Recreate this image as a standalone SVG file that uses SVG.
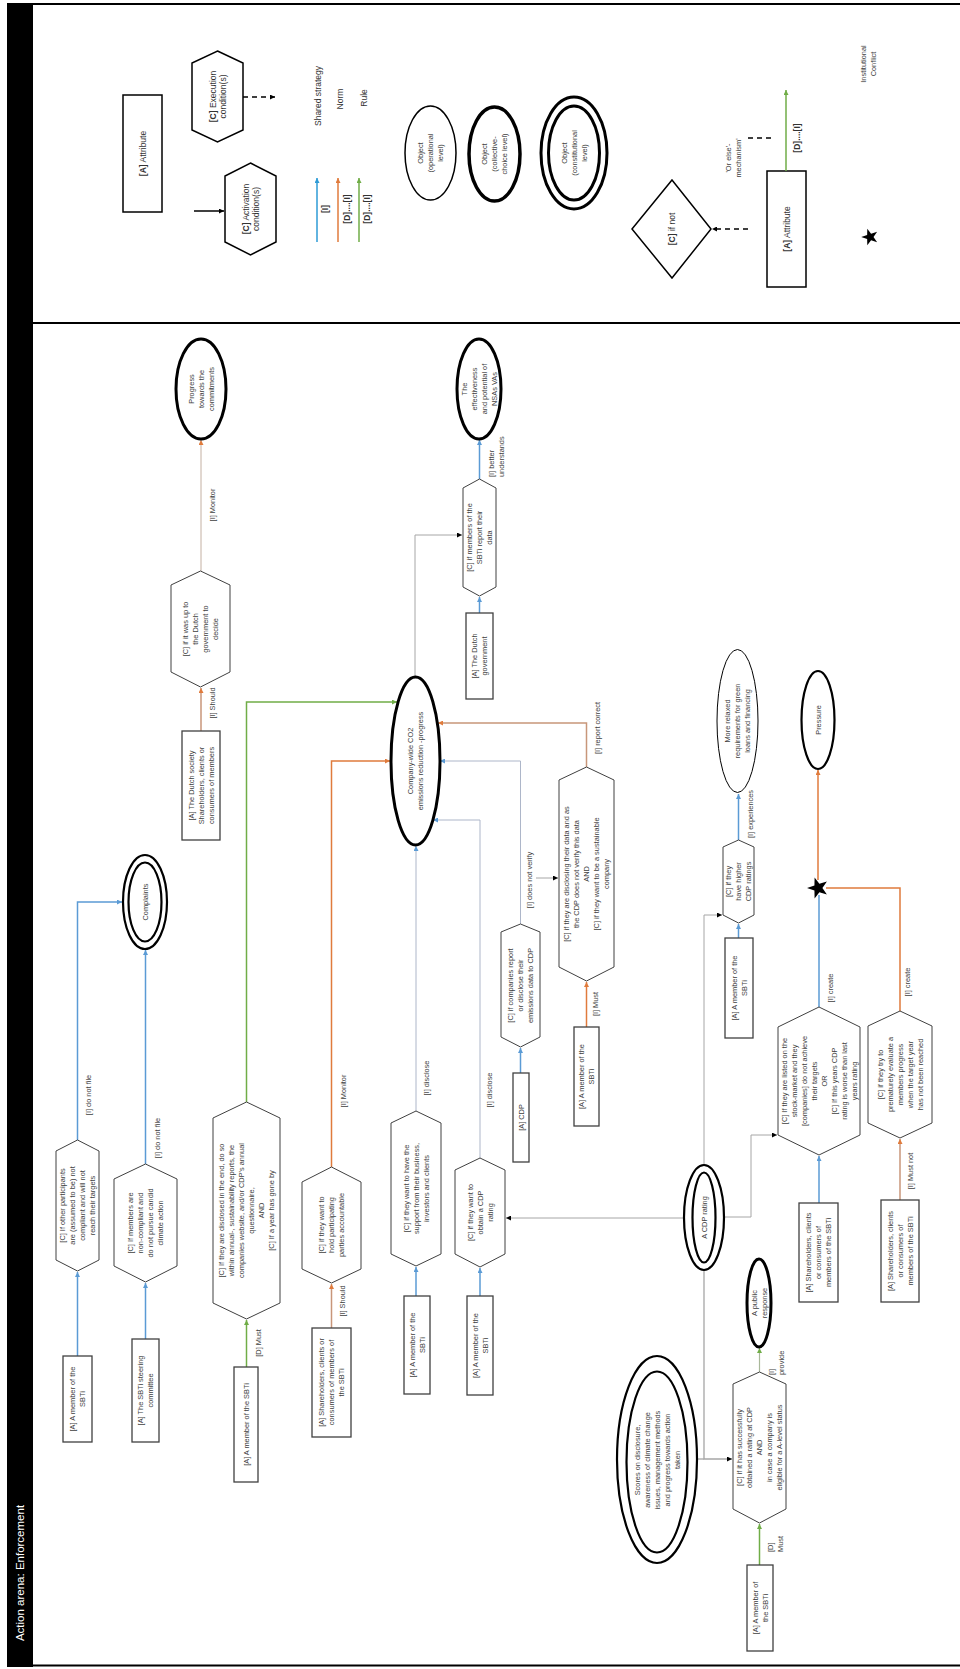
<svg xmlns="http://www.w3.org/2000/svg" width="960" height="1669" viewBox="0 0 960 1669">
<defs>
<style>
.t{font-family:"Liberation Sans",Arial,sans-serif;font-size:7.4px;fill:#404040;text-anchor:middle}
.ls{font-family:"Liberation Sans",Arial,sans-serif;font-size:7.4px;fill:#404040;text-anchor:start}
.lg{font-family:"Liberation Sans",Arial,sans-serif;font-size:8.5px;fill:#333;text-anchor:middle}
.box{fill:#fff;stroke:#404040;stroke-width:1.3}
.hex{fill:#fff;stroke:#404040;stroke-width:1}
.e3{fill:#fff;stroke:#000;stroke-width:3}
.e2{fill:#fff;stroke:#000;stroke-width:2.2}
.e1{fill:#fff;stroke:#000;stroke-width:1}
.c{fill:none}
.blue{stroke:#5b9bd5;stroke-width:1.5}
.orange{stroke:#e07b3c;stroke-width:1.5}
.tan{stroke:#c8967a;stroke-width:1.5}
.green{stroke:#70ad47;stroke-width:1.5}
.gray{stroke:#a6a6a6;stroke-width:1}
.bgray{stroke:#adb6c9;stroke-width:1}
.dash{stroke:#000;stroke-width:1.5;stroke-dasharray:5 4}
</style>
<marker id="mb" viewBox="0 0 6 6" refX="6" refY="3" markerWidth="5" markerHeight="5" markerUnits="userSpaceOnUse" orient="auto"><path d="M0,0L6,3L0,6z" fill="#5b9bd5"/></marker>
<marker id="mo" viewBox="0 0 6 6" refX="6" refY="3" markerWidth="5" markerHeight="5" markerUnits="userSpaceOnUse" orient="auto"><path d="M0,0L6,3L0,6z" fill="#e07b3c"/></marker>
<marker id="mg" viewBox="0 0 6 6" refX="6" refY="3" markerWidth="5" markerHeight="5" markerUnits="userSpaceOnUse" orient="auto"><path d="M0,0L6,3L0,6z" fill="#70ad47"/></marker>
<marker id="mk" viewBox="0 0 6 6" refX="6" refY="3" markerWidth="5" markerHeight="5" markerUnits="userSpaceOnUse" orient="auto"><path d="M0,0L6,3L0,6z" fill="#000"/></marker>
<marker id="mlb" viewBox="0 0 6 6" refX="6" refY="3" markerWidth="5" markerHeight="5" markerUnits="userSpaceOnUse" orient="auto"><path d="M0,0L6,3L0,6z" fill="#2e9bd6"/></marker>
<polygon id="star" points="0,-11 2.59,-3.56 10.46,-3.4 4.18,1.36 6.47,8.9 0,4.4 -6.47,8.9 -4.18,1.36 -10.46,-3.4 -2.59,-3.56" fill="#000"/>
</defs>
<rect width="960" height="1669" fill="#fff"/>

<g id="frame">
<rect x="7" y="3" width="26" height="1664" fill="#000"/>
<line x1="7" y1="4" x2="960" y2="4" stroke="#000" stroke-width="2"/>
<line x1="33" y1="323" x2="960" y2="323" stroke="#000" stroke-width="2"/>
<line x1="7" y1="1665.5" x2="960" y2="1665.5" stroke="#000" stroke-width="2"/>
<text transform="translate(24 1573) rotate(-90)" font-family="Liberation Sans,Arial,sans-serif" font-size="11.5" fill="#fff" text-anchor="middle">Action arena: Enforcement</text>
</g>

<g id="legend">
<g id="lg-attr1"><rect x="123" y="95" width="39" height="117" fill="#fff" stroke="#000" stroke-width="1.5"/>
<text class="lg" transform="translate(142.5 153.5) rotate(-90)" y="3"><tspan font-weight="bold">[A]</tspan> Attribute</text></g>
<g id="lg-exec"><polygon points="217.5,51 243,63 243,130 217.5,142 192,130 192,63" fill="#fff" stroke="#000" stroke-width="1.5"/>
<text class="lg" transform="translate(217.5 96.5) rotate(-90)"><tspan x="0" y="-2"><tspan font-weight="bold">[C]</tspan> Execution</tspan><tspan x="0" y="8.5">condition(s)</tspan></text></g>
<g id="lg-act"><polygon points="250.5,163 276,176 276,242 250.5,255 225,242 225,176" fill="#fff" stroke="#000" stroke-width="1.5"/>
<text class="lg" transform="translate(250.5 209) rotate(-90)"><tspan x="0" y="-2"><tspan font-weight="bold">[C]</tspan> Activation</tspan><tspan x="0" y="8.5">condition(s)</tspan></text></g>
<path class="c dash" d="M243,97H275" marker-end="url(#mk)"/>
<path class="c" stroke="#000" stroke-width="1.5" d="M194,211H224" marker-end="url(#mk)"/>
<path class="c" stroke="#2e9bd6" stroke-width="1.5" d="M317,242V178" marker-end="url(#mlb)"/>
<path class="c" stroke="#e07b3c" stroke-width="1.5" d="M338,242V178" marker-end="url(#mo)"/>
<path class="c" stroke="#70ad47" stroke-width="1.5" d="M359,242V178" marker-end="url(#mg)"/>
<text class="lg" transform="translate(325 209) rotate(-90)" y="3" font-weight="bold" font-size="7.4">[I]</text>
<text class="lg" transform="translate(347 209) rotate(-90)" y="3" font-weight="bold" font-size="7.4">[D]....[I]</text>
<text class="lg" transform="translate(367 209) rotate(-90)" y="3" font-weight="bold" font-size="7.4">[D]....[I]</text>
<text class="lg" transform="translate(318 96) rotate(-90)" y="3" font-size="7.4">Shared strategy</text>
<text class="lg" transform="translate(340 99) rotate(-90)" y="3" font-size="7.4">Norm</text>
<text class="lg" transform="translate(364 98) rotate(-90)" y="3" font-size="7.4">Rule</text>
<g id="lg-obj1"><ellipse cx="430.5" cy="153" rx="25.5" ry="47" fill="#fff" stroke="#000" stroke-width="1.5"/>
<text class="t" transform="translate(430.5 153) rotate(-90)"><tspan x="0" y="-7.5">Object</tspan><tspan x="0" y="2.5">(operational</tspan><tspan x="0" y="12.5">level)</tspan></text></g>
<g id="lg-obj2"><ellipse cx="494.5" cy="154" rx="25.5" ry="47" fill="#fff" stroke="#000" stroke-width="3.5"/>
<text class="t" transform="translate(494.5 154) rotate(-90)"><tspan x="0" y="-7.5">Object</tspan><tspan x="0" y="2.5">(collective-</tspan><tspan x="0" y="12.5">choice level)</tspan></text></g>
<g id="lg-obj3"><ellipse cx="574" cy="153" rx="33" ry="56" fill="#fff" stroke="#000" stroke-width="3"/>
<ellipse cx="574" cy="153" rx="25.5" ry="47" fill="#fff" stroke="#000" stroke-width="3"/>
<text class="t" transform="translate(574 153) rotate(-90)"><tspan x="0" y="-7.5">Object</tspan><tspan x="0" y="2.5">(constitutional</tspan><tspan x="0" y="12.5">level)</tspan></text></g>
<g id="lg-ifnot"><polygon points="672,180 711,229 672,278 632,229" fill="#fff" stroke="#000" stroke-width="1.5"/>
<text class="lg" transform="translate(672 229) rotate(-90)" y="3"><tspan font-weight="bold">[C]</tspan> if not</text></g>
<path class="c dash" d="M748,229H712" marker-end="url(#mk)"/>
<path class="c dash" d="M748,138H775"/>
<text class="t" transform="translate(733.5 158) rotate(-90)"><tspan x="0" y="-2.5">'Or else'-</tspan><tspan x="0" y="7.5">mechanism'</tspan></text>
<g id="lg-attr2"><rect x="767" y="171" width="39" height="116" fill="#fff" stroke="#000" stroke-width="1.5"/>
<text class="lg" transform="translate(786.5 229) rotate(-90)" y="3"><tspan font-weight="bold">[A]</tspan> Attribute</text></g>
<path class="c" stroke="#70ad47" stroke-width="1.5" d="M786,171V90" marker-end="url(#mg)"/>
<text class="lg" transform="translate(797 138) rotate(-90)" y="3" font-weight="bold" font-size="7.4">[D]....[I]</text>
<use href="#star" transform="translate(870 237) rotate(-90) scale(0.8)"/>
<text class="t" transform="translate(868.5 64) rotate(-90)"><tspan x="0" y="-2.5">Institutional</tspan><tspan x="0" y="7.5">Conflict</tspan></text>
</g>

<g id="connectors">
<path class="c" stroke="#c4b0a2" stroke-width="1" d="M201,571V440" marker-end="url(#mo)"/>
<path class="c tan" d="M201,731V688" marker-end="url(#mo)"/>
<path class="c blue" d="M479.5,613V597" marker-end="url(#mb)"/>
<path class="c blue" d="M479.5,479V440" marker-end="url(#mb)"/>
<path class="c gray" d="M415,677V535H462" marker-end="url(#mk)"/>
<path class="c green" d="M246.5,1102V702H397" marker-end="url(#mg)"/>
<path class="c orange" d="M331.5,1167V761H390" marker-end="url(#mo)"/>
<path class="c tan" d="M586.5,767V723H438" marker-end="url(#mo)"/>
<path class="c bgray" d="M520.5,924V761H440" marker-end="url(#mb)"/>
<path class="c bgray" d="M480,1158V820H433" marker-end="url(#mb)"/>
<path class="c bgray" d="M416,1111V846" marker-end="url(#mb)"/>
<path class="c gray" d="M536,878H558" marker-end="url(#mk)"/>
<path class="c blue" d="M520.5,1073V1048" marker-end="url(#mb)"/>
<path class="c orange" d="M586.5,1027V982" marker-end="url(#mo)"/>
<path class="c blue" d="M416,1296V1267" marker-end="url(#mb)"/>
<path class="c blue" d="M480,1296V1268" marker-end="url(#mb)"/>
<path class="c tan" d="M331.5,1328V1284" marker-end="url(#mo)"/>
<path class="c green" d="M246.5,1367V1320" marker-end="url(#mg)"/>
<path class="c blue" d="M77.5,1140V902H122" marker-end="url(#mb)"/>
<path class="c blue" d="M145.5,1164V950" marker-end="url(#mb)"/>
<path class="c blue" d="M77.5,1356V1272" marker-end="url(#mb)"/>
<path class="c blue" d="M145.5,1339V1283" marker-end="url(#mb)"/>
<path class="c gray" d="M684,1218H506" marker-end="url(#mk)"/>
<path class="c gray" d="M704,1165V915H722" marker-end="url(#mk)"/>
<path class="c gray" d="M724,1217H751V1135H777" marker-end="url(#mk)"/>
<path class="c" stroke="#a6a6a6" stroke-width="1.3" d="M704,1270V1459H732" marker-end="url(#mk)"/>
<path class="c" stroke="#a6a6a6" stroke-width="1.3" d="M697,1459H704"/>
<path class="c green" d="M759.5,1565V1524" marker-end="url(#mg)"/>
<path class="c" stroke="#a9b89a" stroke-width="1.2" d="M759.5,1372V1348" marker-end="url(#mg)"/>
<path class="c blue" d="M738.5,938V924" marker-end="url(#mb)"/>
<path class="c blue" d="M738.5,840V794" marker-end="url(#mb)"/>
<path class="c orange" d="M818,880V770" marker-end="url(#mo)"/>
<path class="c blue" d="M819,1007V895"/>
<path class="c orange" d="M900,1011V888H826"/>
<path class="c blue" d="M819,1203V1156" marker-end="url(#mb)"/>
<path class="c tan" d="M900,1200V1139" marker-end="url(#mo)"/>
<use href="#star" transform="translate(818 888) rotate(-90)"/>
</g>

<g id="edge-labels">
<text class="t" transform="translate(212 505) rotate(-90)" y="2.5">[I] Monitor</text>
<text class="t" transform="translate(212 703) rotate(-90)" y="2.5">[I] Should</text>
<text class="ls" transform="translate(491 477) rotate(-90)"><tspan x="0" y="2.5">[I] better</tspan><tspan x="0" y="12.5">understands</tspan></text>
<text class="t" transform="translate(597 728) rotate(-90)" y="2.5">[I] report correct</text>
<text class="t" transform="translate(529 880) rotate(-90)" y="2.5">[I] does not verify</text>
<text class="t" transform="translate(595 1004) rotate(-90)" y="2.5">[I] Must</text>
<text class="t" transform="translate(426 1078) rotate(-90)" y="2.5">[I] disclose</text>
<text class="t" transform="translate(489 1090) rotate(-90)" y="2.5">[I] disclose</text>
<text class="t" transform="translate(343 1091) rotate(-90)" y="2.5">[I] Monitor</text>
<text class="t" transform="translate(88 1095) rotate(-90)" y="2.5">[I] do not file</text>
<text class="t" transform="translate(157 1138) rotate(-90)" y="2.5">[I] do not file</text>
<text class="t" transform="translate(258 1343) rotate(-90)" y="2.5">[D] Must</text>
<text class="t" transform="translate(342 1301) rotate(-90)" y="2.5">[I] Should</text>
<text class="t" transform="translate(750 814) rotate(-90)" y="2.5">[I] experiences</text>
<text class="t" transform="translate(830 988) rotate(-90)" y="2.5">[I] create</text>
<text class="t" transform="translate(907 982) rotate(-90)" y="2.5">[I] create</text>
<text class="t" transform="translate(910 1171) rotate(-90)" y="2.5">[I] Must not</text>
<text class="ls" transform="translate(770 1552) rotate(-90)"><tspan x="0" y="2.5">[D]</tspan><tspan x="0" y="12.5">Must</tspan></text>
<text class="ls" transform="translate(771 1375) rotate(-90)"><tspan x="0" y="2.5">[I]</tspan><tspan x="0" y="12.5">provide</tspan></text>
</g>

<g id="n-progress"><ellipse class="e3" cx="201" cy="389" rx="25" ry="50"/>
<text class="t" transform="translate(201 389) rotate(-90)"><tspan x="0" y="-7.5">Progress</tspan><tspan x="0" y="2.5">towards the</tspan><tspan x="0" y="12.5">commitments</tspan></text></g>

<g id="n-c-dutch-decide"><polygon class="hex" points="200.5,571 230,585 230,672 200.5,687 171,672 171,585"/>
<text class="t" transform="translate(200.5 629) rotate(-90)"><tspan x="0" y="-12.5">[C] if it was up to</tspan><tspan x="0" y="-2.5">the Dutch</tspan><tspan x="0" y="7.5">government to</tspan><tspan x="0" y="17.5">decide</tspan></text></g>

<g id="n-a-dutch-society"><rect class="box" x="182" y="731" width="38" height="109"/>
<text class="t" transform="translate(201 785.5) rotate(-90)"><tspan x="0" y="-7.5">[A] The Dutch society</tspan><tspan x="0" y="2.5">Shareholders, clients or</tspan><tspan x="0" y="12.5">consumers of members</tspan></text></g>

<g id="n-effectiveness"><ellipse class="e3" cx="479" cy="389" rx="22" ry="50"/>
<text class="t" transform="translate(479 389) rotate(-90)"><tspan x="0" y="-12.5">The</tspan><tspan x="0" y="-2.5">effectiveness</tspan><tspan x="0" y="7.5">and potential of</tspan><tspan x="0" y="17.5">NSAs VAs</tspan></text></g>

<g id="n-c-sbti-report"><polygon class="hex" points="479.5,479 496,488 496,587 479.5,596 463,587 463,488"/>
<text class="t" transform="translate(479.5 537.5) rotate(-90)"><tspan x="0" y="-7.5">[C] if members of the</tspan><tspan x="0" y="2.5">SBTi report their</tspan><tspan x="0" y="12.5">data</tspan></text></g>

<g id="n-a-dutch-gov"><rect class="box" x="466" y="613" width="27" height="86"/>
<text class="t" transform="translate(479.5 656) rotate(-90)"><tspan x="0" y="-2.5">[A] The Dutch</tspan><tspan x="0" y="7.5">government</tspan></text></g>

<g id="n-co2"><ellipse class="e3" cx="415.5" cy="761" rx="24.5" ry="84"/>
<text class="t" transform="translate(415.5 761) rotate(-90)"><tspan x="0" y="-2.5">Company-wide CO2</tspan><tspan x="0" y="7.5">emissions reduction -progress</tspan></text></g>

<g id="n-complaints"><ellipse class="e2" cx="145" cy="902" rx="22" ry="47"/><ellipse class="e2" cx="145" cy="902" rx="16.5" ry="39.5"/>
<text class="t" transform="translate(145 902) rotate(-90)" y="2.5">Complaints</text></g>

<g id="n-c-other"><polygon class="hex" points="77.5,1140 99,1151 99,1260 77.5,1271 56,1260 56,1151"/>
<text class="t" transform="translate(77.5 1205.5) rotate(-90)"><tspan x="0" y="-12.5">[C] If other participants</tspan><tspan x="0" y="-2.5">are (assumed to be) not</tspan><tspan x="0" y="7.5">compliant and will not</tspan><tspan x="0" y="17.5">reach their targets</tspan></text></g>

<g id="n-a-member1"><rect class="box" x="63" y="1356" width="29" height="86"/>
<text class="t" transform="translate(77.5 1399) rotate(-90)"><tspan x="0" y="-2.5">[A]  A member of the</tspan><tspan x="0" y="7.5">SBTi</tspan></text></g>

<g id="n-c-noncompliant"><polygon class="hex" points="145.5,1164 177,1179 177,1266 145.5,1282 114,1266 114,1179"/>
<text class="t" transform="translate(145.5 1223) rotate(-90)"><tspan x="0" y="-12.5">[C] If members are</tspan><tspan x="0" y="-2.5">non-compliant and</tspan><tspan x="0" y="7.5">do not pursue candid</tspan><tspan x="0" y="17.5">climate action</tspan></text></g>

<g id="n-a-steering"><rect class="box" x="132" y="1339" width="27" height="103"/>
<text class="t" transform="translate(145.5 1390.5) rotate(-90)"><tspan x="0" y="-2.5">[A]  The SBTi steering</tspan><tspan x="0" y="7.5">committee</tspan></text></g>

<g id="n-c-disclosed"><polygon class="hex" points="246.5,1102 280,1118 280,1303 246.5,1319 213,1303 213,1118"/>
<text class="t" transform="translate(246.5 1210.5) rotate(-90)"><tspan x="0" y="-22.5">[C] If they are disclosed in the end, do so</tspan><tspan x="0" y="-12.5">within annual-, sustainability reports, the</tspan><tspan x="0" y="-2.5">companies website, and/or CDP's annual</tspan><tspan x="0" y="7.5">questionnaire,</tspan><tspan x="0" y="17.5">AND</tspan><tspan x="0" y="27.5">[C] If a year has gone by</tspan></text></g>

<g id="n-a-member2"><rect class="box" x="234" y="1367" width="24" height="115"/>
<text class="t" transform="translate(246 1424.5) rotate(-90)" y="2.5">[A]   A member of the SBTi</text></g>

<g id="n-c-accountable"><polygon class="hex" points="331.5,1167 361,1182 361,1269 331.5,1283 302,1269 302,1182"/>
<text class="t" transform="translate(331.5 1225) rotate(-90)"><tspan x="0" y="-7.5">[C] if they want to</tspan><tspan x="0" y="2.5">hold participating</tspan><tspan x="0" y="12.5">parties accountable</tspan></text></g>

<g id="n-a-shareholders1"><rect class="box" x="312" y="1328" width="39" height="109"/>
<text class="t" transform="translate(331.5 1382.5) rotate(-90)"><tspan x="0" y="-7.5">[A] Shareholders, clients or</tspan><tspan x="0" y="2.5">consumers of members of</tspan><tspan x="0" y="12.5">the SBTi</tspan></text></g>

<g id="n-c-support"><polygon class="hex" points="416,1111 441,1123 441,1254 416,1266 391,1254 391,1123"/>
<text class="t" transform="translate(416 1188.5) rotate(-90)"><tspan x="0" y="-7.5">[C] if they want to have the</tspan><tspan x="0" y="2.5">support from their business,</tspan><tspan x="0" y="12.5">investors and clients</tspan></text></g>

<g id="n-a-member3"><rect class="box" x="404" y="1296" width="26" height="98"/>
<text class="t" transform="translate(417 1345) rotate(-90)"><tspan x="0" y="-2.5">[A]  A member of the</tspan><tspan x="0" y="7.5">SBTi</tspan></text></g>

<g id="n-c-obtain"><polygon class="hex" points="480,1158 505,1170 505,1254 480,1267 455,1254 455,1170"/>
<text class="t" transform="translate(480 1212.5) rotate(-90)"><tspan x="0" y="-7.5">[C] if they want to</tspan><tspan x="0" y="2.5">obtain a CDP</tspan><tspan x="0" y="12.5">rating</tspan></text></g>

<g id="n-a-member4"><rect class="box" x="467" y="1296" width="26" height="99"/>
<text class="t" transform="translate(480 1345.5) rotate(-90)"><tspan x="0" y="-2.5">[A]  A member of the</tspan><tspan x="0" y="7.5">SBTi</tspan></text></g>

<g id="n-a-cdp"><rect class="box" x="513" y="1073" width="16" height="89"/>
<text class="t" transform="translate(521 1117.5) rotate(-90)" y="2.5">[A]  CDP</text></g>

<g id="n-c-companies-report"><polygon class="hex" points="520.5,924 540,932 540,1037 520.5,1047 501,1037 501,932"/>
<text class="t" transform="translate(520.5 985.5) rotate(-90)"><tspan x="0" y="-7.5">[C] if companies report</tspan><tspan x="0" y="2.5">or disclose their</tspan><tspan x="0" y="12.5">emissions data to CDP</tspan></text></g>

<g id="n-c-disclosing"><polygon class="hex" points="586.5,767 614,780 614,967 586.5,981 559,967 559,780"/>
<text class="t" transform="translate(586.5 874) rotate(-90)"><tspan x="0" y="-17.5">[C] if they are disclosing their data and as</tspan><tspan x="0" y="-7.5">the CDP does not verify this data</tspan><tspan x="0" y="2.5">AND</tspan><tspan x="0" y="12.5">[C] if they want to be a sustainable</tspan><tspan x="0" y="22.5">company</tspan></text></g>

<g id="n-a-member5"><rect class="box" x="574" y="1027" width="25" height="99"/>
<text class="t" transform="translate(586.5 1076.5) rotate(-90)"><tspan x="0" y="-2.5">[A]  A member of the</tspan><tspan x="0" y="7.5">SBTi</tspan></text></g>

<g id="n-relaxed"><ellipse class="e1" cx="737.5" cy="721" rx="20.5" ry="71.5"/>
<text class="t" transform="translate(737.5 721) rotate(-90)"><tspan x="0" y="-7.5">More relaxed</tspan><tspan x="0" y="2.5">requirements for green</tspan><tspan x="0" y="12.5">loans and financing</tspan></text></g>

<g id="n-c-higher"><polygon class="hex" points="738.5,840 754,847 754,915 738.5,923 723,915 723,847"/>
<text class="t" transform="translate(738.5 881.5) rotate(-90)"><tspan x="0" y="-7.5">[C] if they</tspan><tspan x="0" y="2.5">have higher</tspan><tspan x="0" y="12.5">CDP ratings</tspan></text></g>

<g id="n-a-member6"><rect class="box" x="725" y="938" width="28" height="100"/>
<text class="t" transform="translate(739 988) rotate(-90)"><tspan x="0" y="-2.5">[A]  A member of the</tspan><tspan x="0" y="7.5">SBTi</tspan></text></g>

<g id="n-pressure"><ellipse class="e2" cx="818" cy="720" rx="16.5" ry="49"/>
<text class="t" transform="translate(818 720) rotate(-90)" y="2.5">Pressure</text></g>

<g id="n-c-listed"><polygon class="hex" points="819,1007 860,1027 860,1135 819,1155 778,1135 778,1027"/>
<text class="t" transform="translate(819 1081) rotate(-90)"><tspan x="0" y="-32.5">[C] If they are listed on the</tspan><tspan x="0" y="-22.5">stock-market and they</tspan><tspan x="0" y="-12.5">[companies] do not achieve</tspan><tspan x="0" y="-2.5">their targets</tspan><tspan x="0" y="7.5">OR</tspan><tspan x="0" y="17.5">[C] If this years CDP</tspan><tspan x="0" y="27.5">rating is worse than last</tspan><tspan x="0" y="37.5">years rating</tspan></text></g>

<g id="n-a-shareholders2"><rect class="box" x="799" y="1203" width="39" height="99"/>
<text class="t" transform="translate(818.5 1252.5) rotate(-90)"><tspan x="0" y="-7.5">[A] Shareholders, clients</tspan><tspan x="0" y="2.5">or consumers of</tspan><tspan x="0" y="12.5">members of the SBTi</tspan></text></g>

<g id="n-c-premature"><polygon class="hex" points="900,1011 932,1026 932,1123 900,1138 868,1123 868,1026"/>
<text class="t" transform="translate(900 1074.5) rotate(-90)"><tspan x="0" y="-17.5">[C] if they try to</tspan><tspan x="0" y="-7.5">prematurely evaluate a</tspan><tspan x="0" y="2.5">members progress</tspan><tspan x="0" y="12.5">when the target year</tspan><tspan x="0" y="22.5">has not been reached</tspan></text></g>

<g id="n-a-shareholders3"><rect class="box" x="881" y="1200" width="38" height="102"/>
<text class="t" transform="translate(900 1251) rotate(-90)"><tspan x="0" y="-7.5">[A] Shareholders, clients</tspan><tspan x="0" y="2.5">or consumers of</tspan><tspan x="0" y="12.5">members of the SBTi</tspan></text></g>

<g id="n-cdp-rating"><ellipse class="e2" cx="704" cy="1217.5" rx="20" ry="52.5"/><ellipse class="e2" cx="704" cy="1217.5" rx="11.5" ry="45"/>
<text class="t" transform="translate(704 1217.5) rotate(-90)" y="2.5">A CDP rating</text></g>

<g id="n-scores"><ellipse class="e2" cx="657" cy="1459.5" rx="40" ry="103.5"/><ellipse class="e2" cx="657" cy="1462" rx="30.5" ry="90.5"/>
<text class="t" transform="translate(657 1460) rotate(-90)"><tspan x="0" y="-17.5">Scores on disclosure,</tspan><tspan x="0" y="-7.5">awareness of climate change</tspan><tspan x="0" y="2.5">issues, management methods</tspan><tspan x="0" y="12.5">and progress towards action</tspan><tspan x="0" y="22.5">taken</tspan></text></g>

<g id="n-c-successfully"><polygon class="hex" points="759.5,1372 786,1384 786,1509 759.5,1523 733,1509 733,1384"/>
<text class="t" transform="translate(759.5 1447.5) rotate(-90)"><tspan x="0" y="-17.5">[C] if it has successfully</tspan><tspan x="0" y="-7.5">obtained a rating at CDP</tspan><tspan x="0" y="2.5">AND</tspan><tspan x="0" y="12.5">in case a company is</tspan><tspan x="0" y="22.5">eligible for a A-level status</tspan></text></g>

<g id="n-a-member7"><rect class="box" x="747" y="1565" width="26" height="86"/>
<text class="t" transform="translate(760 1608) rotate(-90)"><tspan x="0" y="-2.5">[A]  A member of</tspan><tspan x="0" y="7.5">the SBTi</tspan></text></g>

<g id="n-public"><ellipse class="e3" cx="759" cy="1303" rx="12" ry="44"/>
<text class="t" transform="translate(759 1303) rotate(-90)"><tspan x="0" y="-2.5">A public</tspan><tspan x="0" y="7.5">response</tspan></text></g>
</svg>
